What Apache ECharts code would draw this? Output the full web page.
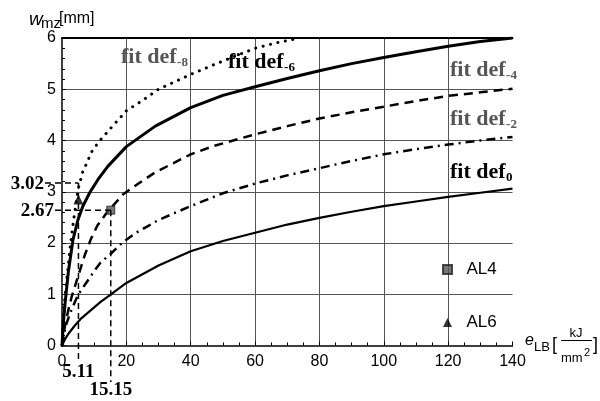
<!DOCTYPE html>
<html><head><meta charset="utf-8">
<script src="https://cdn.jsdelivr.net/npm/echarts@6/dist/echarts.min.js"></script>
<style>html,body{margin:0;padding:0;background:#fff}#c{width:600px;height:401px}</style>
</head><body><div id="c"></div>
<script>
// ---- data ----
const xTickMax = 140, xTickStep = 20;
const yTickMax = 6, yTickStep = 1;

const def8X = [0,0.5,1,1.5,2.5,3.5,5,6.5,8,9,11.5,15,20,25,30,40,48,60,67,74];
const def8Y = [0,0.65,1.0,1.3,1.9,2.4,3.05,3.4,3.6,3.76,3.98,4.23,4.58,4.78,5.0,5.29,5.5,5.8,5.91,6.0];

const def6X = [0,0.5,1,2,3.4,5,6.5,8.6,11.2,14.3,20,29,40,50,60,70,80,90,100,110,120,130,140];
const def6Y = [0,0.5,0.85,1.45,2.06,2.46,2.72,2.98,3.24,3.5,3.88,4.28,4.64,4.88,5.05,5.21,5.36,5.5,5.62,5.73,5.84,5.93,6.0];

const def4X = [0,1,2,3,5,7,9,11,14,19,24,29,40,47,60,70,80,90,100,110,120,130,140];
const def4Y = [0,0.42,0.7,0.95,1.35,1.75,2.08,2.34,2.6,2.95,3.17,3.38,3.73,3.89,4.12,4.28,4.43,4.55,4.66,4.77,4.87,4.94,5.01];

const def2X = [0,1,2.5,5,7.5,10,12,15,19,23,27,30,40,50,60,70,80,90,100,110,120,130,140];
const def2Y = [0,0.35,0.63,0.99,1.22,1.45,1.62,1.78,2.02,2.2,2.34,2.45,2.72,2.97,3.16,3.32,3.46,3.6,3.73,3.83,3.92,4.0,4.07];

const def0X = [0,1,2,4,6,9,12,15,20,30,40,50,60,70,80,90,100,110,120,130,140];
const def0Y = [0,0.13,0.23,0.39,0.53,0.69,0.85,0.99,1.22,1.56,1.84,2.04,2.2,2.36,2.49,2.61,2.72,2.81,2.9,2.98,3.06];

const al6Point = [5.11, 2.85];
const al4Point = [15.15, 2.64];
const guideX = [5.11, 15.15];
const guideY = [3.17, 2.64];
const guideXLabels = ['5.11', '15.15'];
const guideYLabels = ['3.02', '2.67'];

const fitMain = 'fit def';
const fitSubs = ['-8', '-6', '-4', '-2', '0'];
const legendNames = ['AL4', 'AL6'];

// ---- chart ----
const zip = (xs, ys) => xs.map((x, i) => [x, ys[i]]);
const chart = echarts.init(document.getElementById('c'), null, {renderer: 'canvas'});
const SANS = '"Liberation Sans", Arial, sans-serif';
const SERIF = '"Liberation Serif", "Times New Roman", serif';

function curve(name, xs, ys, width, type, cap) {
  return {
    name, type: 'line', data: zip(xs, ys), showSymbol: false, smooth: false,
    clip: true, z: 3,
    lineStyle: {color: '#000', width, type, cap: cap || 'butt', join: 'round'}
  };
}

const option = {
  animation: false,
  backgroundColor: '#fff',
  grid: {left: 62, right: 87.5, top: 38, bottom: 55.5},
  legend: {
    data: legendNames, orient: 'vertical', left: 437, top: 256,
    itemWidth: 9, itemHeight: 9, itemGap: 36,
    formatter: n => '  ' + n,
    textStyle: {fontSize: 17, fontFamily: SANS, color: '#000'}
  },
  xAxis: [{
    type: 'value', min: 0, max: xTickMax, interval: xTickStep,
    axisLine: {lineStyle: {color: '#000', width: 1.5}},
    axisTick: {inside: true, length: 4, lineStyle: {color: '#000'}},
    minorTick: {show: true, splitNumber: 4, length: 3, lineStyle: {color: '#000'}},
    axisLabel: {fontSize: 16, fontFamily: SANS, color: '#000', margin: 8},
    splitLine: {show: true, showMinLine: false, showMaxLine: false, lineStyle: {color: '#555', width: 1}}
  }, {
    type: 'value', min: 0, max: xTickMax, position: 'top',
    axisLine: {show: true, lineStyle: {color: '#000', width: 2}},
    axisTick: {show: false}, axisLabel: {show: false}, splitLine: {show: false}
  }],
  yAxis: {
    type: 'value', min: 0, max: yTickMax, interval: yTickStep,
    axisLine: {show: true, lineStyle: {color: '#000', width: 1.5}},
    axisTick: {show: true, inside: true, length: 4, lineStyle: {color: '#000'}},
    minorTick: {show: true, splitNumber: 5, length: 3, lineStyle: {color: '#000'}},
    axisLabel: {fontSize: 16, fontFamily: SANS, color: '#000', margin: 6},
    splitLine: {show: true, showMinLine: false, showMaxLine: false, lineStyle: {color: '#555', width: 1}}
  },
  series: [
    curve('fit def-8', def8X, def8Y, 3, [0.1, 7.5], 'round'),
    curve('fit def-6', def6X, def6Y, 3),
    curve('fit def-4', def4X, def4Y, 2.5, [9, 6]),
    curve('fit def-2', def2X, def2Y, 2.5, [9, 5, 2, 5]),
    curve('fit def0', def0X, def0Y, 2.2),
    {name: 'AL4', type: 'scatter', data: [al4Point], symbol: 'rect', symbolSize: 8, z: 5,
     itemStyle: {color: '#555', borderColor: '#222', borderWidth: 1}},
    {name: 'AL6', type: 'scatter', data: [al6Point], symbol: 'triangle', symbolSize: 10, z: 5,
     itemStyle: {color: '#000'}}
  ]
};
chart.setOption(option);

// ---- annotations ----
const toPx = (x, y) => chart.convertToPixel({xAxisIndex: 0, yAxisIndex: 0}, [x, y]);
const cvs = document.createElement('canvas').getContext('2d');
function measure(txt, font) { cvs.font = font; return cvs.measureText(txt).width; }

const g = [];
function txt(x, y, text, size, opts) {
  opts = opts || {};
  g.push({type: 'text', x, y, z: 10, style: Object.assign({
    text, fontSize: size, fontFamily: opts.family || SANS, fill: opts.fill || '#000',
    fontWeight: opts.weight || 'normal', fontStyle: opts.style || 'normal',
    align: opts.align || 'left', verticalAlign: opts.va || 'middle'
  })});
}
function dashed(x1, y1, x2, y2) {
  g.push({type: 'line', z: 9, shape: {x1, y1, x2, y2},
          style: {stroke: '#000', lineWidth: 1.5, lineDash: [6, 4]}});
}

const leftStarts = [45, 55];
const bottomEnds = [363, 382];
const yLabelRight = [44, 54];
const xLabelY = [372, 390];
guideX.forEach((gx, i) => {
  const p = toPx(gx, guideY[i]);
  dashed(leftStarts[i], p[1], p[0], p[1]);
  dashed(p[0], p[1], p[0], bottomEnds[i]);
  txt(yLabelRight[i], p[1] + 1, guideYLabels[i], 19, {family: SERIF, weight: 'bold', align: 'right'});
  txt(p[0], xLabelY[i], guideXLabels[i], 19, {family: SERIF, weight: 'bold', align: 'center'});
});

const fitPos = [[121, 57, '#555'], [228, 62, '#000'], [450, 70, '#555'], [450, 119, '#555'], [450, 172, '#000']];
fitSubs.forEach((s, i) => {
  const [x, y, c] = fitPos[i];
  const f = 'bold 22px "Liberation Serif"';
  const w = measure(fitMain, f);
  txt(x, y, fitMain, 22, {family: SERIF, weight: 'bold', fill: c});
  txt(x + w + 0.5, y + 6, s, 13, {family: SERIF, weight: 'bold', fill: c});
});

txt(29, 20, 'w', 19, {style: 'italic'});
txt(41, 24, 'mz', 15);
txt(59, 19, '[mm]', 16);

txt(525, 341, 'e', 16, {style: 'italic'});
txt(534, 347, 'LB', 13);
txt(552, 345, '[', 18);
txt(576, 333, 'kJ', 13, {align: 'center'});
g.push({type: 'line', z: 9, shape: {x1: 561, y1: 340.5, x2: 592, y2: 340.5}, style: {stroke: '#000', lineWidth: 1}});
txt(561, 358, 'mm', 13);
txt(584, 353, '2', 11);
txt(593, 345, ']', 18);

chart.setOption({graphic: g});
</script></body></html>
